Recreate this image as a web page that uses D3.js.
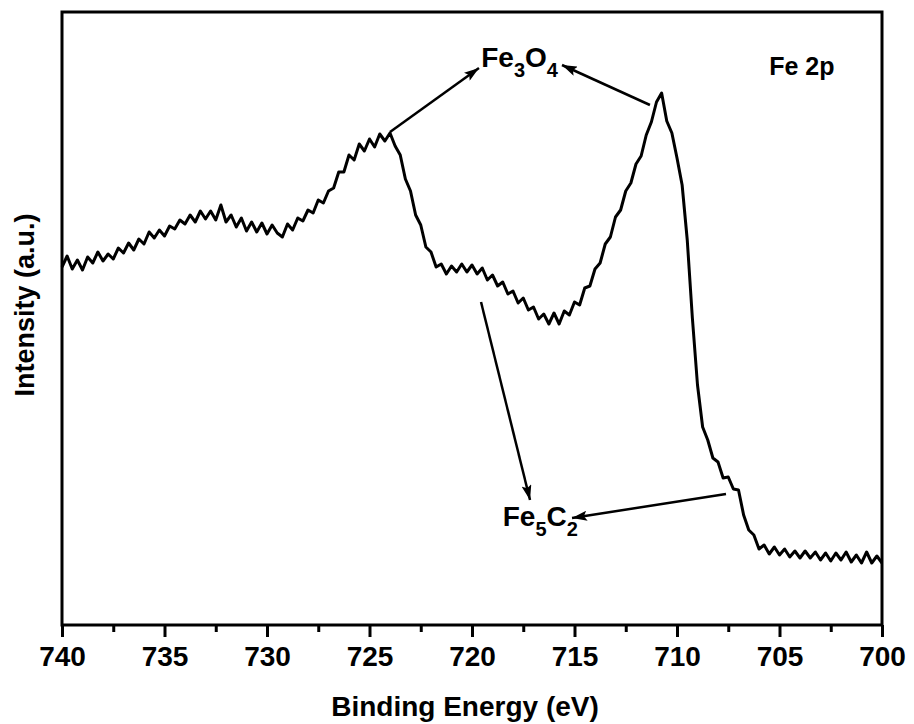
<!DOCTYPE html>
<html><head><meta charset="utf-8">
<script src="https://cdn.jsdelivr.net/npm/d3@7"></script>
<style>body{margin:0;background:#fff}svg{display:block}text{font-family:"Liberation Sans",Arial,sans-serif;font-weight:bold;fill:#000}</style>
</head><body><svg id="c" width="914" height="724"></svg>
<script>
// Binding energy (eV), 740 -> 700 in 0.25 eV steps
const energyStart = 740, energyStep = -0.25;
const intensity = [
358,369,356,365,355,368,362,373,364,371,366,377,372,382,375,386,381,393,387,395,
389,399,396,405,401,410,403,414,406,414,405,420,403,410,398,407,394,403,393,402,
391,400,392,388,401,395,407,404,415,412,425,422,434,437,453,453,470,465,481,474,
486,478,491,484,492,479,470,446,434,410,400,378,373,358,361,351,359,353,361,353,
360,351,357,345,350,339,343,331,334,322,327,315,318,306,311,301,312,301,314,310,
323,320,337,339,356,362,381,388,408,415,434,442,461,469,490,503,523,532,504,492,
467,440,385,307,240,198,185,167,163,147,148,136,135,110,95,90,76,80,71,78,
70,76,68,74,67,74,67,73,65,72,64,72,65,73,63,70,62,73,62,69,62
];
const energy = intensity.map((_, i) => energyStart + i * energyStep);
const xDomain = [740, 700];
const yDomain = [0, 613];
const majorTicks = [740, 735, 730, 725, 720, 715, 710, 705, 700];
const minorTicks = [737.5, 732.5, 727.5, 722.5, 717.5, 712.5, 707.5, 702.5];
const xTitle = "Binding Energy (eV)";
const yTitle = "Intensity (a.u.)";
const panelLabel = {text: "Fe 2p", e: 705.5, v: 550};
// annotations: [text, isSubscript], anchor in data units
const labels = [
  {parts: [["Fe",0],["3",1],["O",0],["4",1]], e: 719.55, v: 558},
  {parts: [["Fe",0],["5",1],["C",0],["2",1]], e: 718.5, v: 99}
];
const arrows = [
  {e1: 724.0, v1: 493, e2: 719.66, v2: 557},
  {e1: 711.32, v1: 520, e2: 715.61, v2: 560},
  {e1: 719.56, v1: 323, e2: 717.17, v2: 125},
  {e1: 707.61, v1: 131, e2: 715.12, v2: 107}
];

const svg = d3.select("#c");
const m = {l: 62, r: 32, t: 12, b: 99};
const W = 914, H = 724;
const x = d3.scaleLinear().domain(xDomain).range([m.l, W - m.r]);
const y = d3.scaleLinear().domain(yDomain).range([H - m.b, m.t]);

svg.append("defs").append("marker").attr("id","ah").attr("viewBox","0 0 15 10")
  .attr("refX",15).attr("refY",5).attr("markerWidth",15).attr("markerHeight",10)
  .attr("markerUnits","userSpaceOnUse").attr("orient","auto")
  .append("path").attr("d","M0,0 L15,5 L0,10 L3,5 Z").attr("fill","#000");

// data line
const line = d3.line().x((d,i) => x(energy[i])).y(d => y(d));
svg.append("path").datum(intensity).attr("d", line)
  .attr("fill","none").attr("stroke","#000").attr("stroke-width",3).attr("stroke-linejoin","round");

// x axis
const gx = svg.append("g").attr("transform",`translate(0,${H - m.b})`);
gx.call(d3.axisBottom(x).tickValues(majorTicks).tickSize(12).tickPadding(9).tickFormat(d3.format("d")));
gx.selectAll(".tick line").attr("stroke","#000").attr("stroke-width",3);
gx.selectAll(".tick text").attr("font-size",28).attr("font-family","Liberation Sans, Arial, sans-serif").attr("font-weight","bold");
gx.select(".domain").remove();
const gm = svg.append("g").attr("transform",`translate(0,${H - m.b})`);
gm.call(d3.axisBottom(x).tickValues(minorTicks).tickSize(7).tickFormat(""));
gm.selectAll(".tick line").attr("stroke","#000").attr("stroke-width",3);
gm.select(".domain").remove();

// frame
svg.append("rect").attr("x",m.l).attr("y",m.t).attr("width",W-m.l-m.r).attr("height",H-m.t-m.b)
  .attr("fill","none").attr("stroke","#000").attr("stroke-width",3);

// titles
svg.append("text").attr("x",465).attr("y",716).attr("text-anchor","middle")
  .attr("font-size",28).text(xTitle);
svg.append("text").attr("transform",`translate(34,305) rotate(-90)`)
  .attr("text-anchor","middle").attr("font-size",27).text(yTitle);

// panel label
svg.append("text").attr("x",x(panelLabel.e)).attr("y",y(panelLabel.v)).attr("font-size",25).text(panelLabel.text);

// arrows
svg.selectAll("line.arr").data(arrows).enter().append("line").attr("class","arr")
  .attr("x1",d=>x(d.e1)).attr("y1",d=>y(d.v1)).attr("x2",d=>x(d.e2)).attr("y2",d=>y(d.v2))
  .attr("stroke","#000").attr("stroke-width",2.5).attr("marker-end","url(#ah)");

// formula labels
labels.forEach(L => {
  const t = svg.append("text").attr("x",x(L.e)).attr("y",y(L.v)).attr("font-size",28);
  let prevSub = 0;
  L.parts.forEach(([s,sub]) => {
    const dy = sub - prevSub;
    t.append("tspan").attr("dy", dy*10).attr("font-size", sub ? 20 : 28).text(s);
    prevSub = sub;
  });
});
</script></body></html>
